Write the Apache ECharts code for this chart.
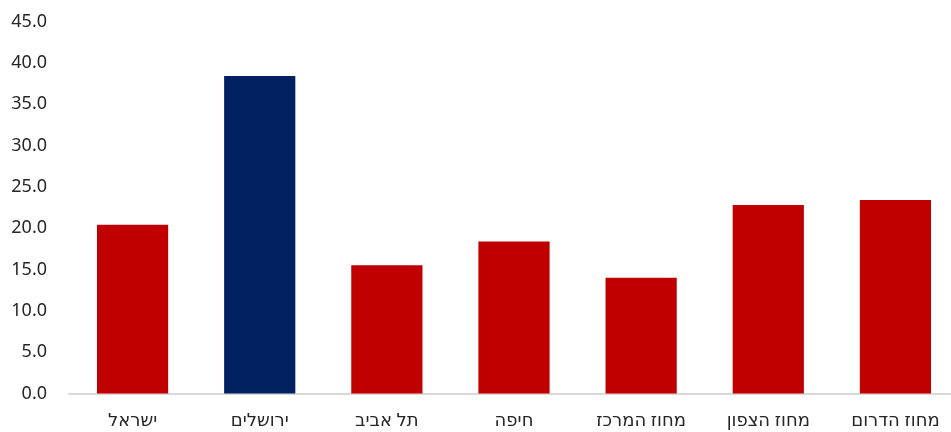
<!DOCTYPE html>
<html><head><meta charset="utf-8">
<script src="https://cdn.jsdelivr.net/npm/echarts@6/dist/echarts.min.js"></script>
<style>html,body{margin:0;padding:0;background:#fff;overflow:hidden}#c{width:960px;height:432px}</style>
</head><body><div id="c"></div>
<script>
const categories = ['ישראל', 'ירושלים', 'תל אביב', 'חיפה', 'מחוז המרכז', 'מחוז הצפון', 'מחוז הדרום'];
const values = [20.4, 38.4, 15.5, 18.4, 14.0, 22.8, 23.4];
const highlightIndex = 1;
const chart = echarts.init(document.getElementById('c'), null, {renderer: 'canvas'});
chart.setOption({
  animation: false,
  grid: {left: 69, top: 21.5, right: 1, bottom: 38.5, containLabel: false},
  xAxis: {
    type: 'category', data: categories,
    axisLine: {lineStyle: {color: '#D9D9D9', width: 2}},
    axisTick: {show: false},
    axisLabel: {color: '#262626', fontSize: 18, fontFamily: 'Noto Sans, DejaVu Sans, sans-serif', margin: 18}
  },
  yAxis: {
    type: 'value', min: 0, max: 45, interval: 5,
    splitLine: {show: false},
    axisLine: {show: false}, axisTick: {show: false},
    axisLabel: {color: '#262626', fontSize: 18, fontFamily: 'Noto Sans, sans-serif', margin: 22,
      formatter: v => v.toFixed(1)}
  },
  series: [{
    type: 'bar', barWidth: '56%',
    data: values.map((v, i) => ({value: v, itemStyle: {color: i === highlightIndex ? '#002060' : '#C00000'}}))
  }]
});
</script></body></html>
